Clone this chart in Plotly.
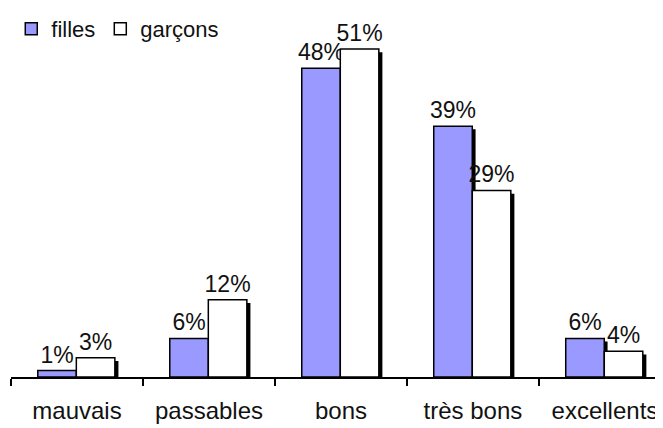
import plotly.graph_objects as go

categories = ["mauvais", "passables", "bons", "très bons", "excellents"]
filles = [1, 6, 48, 39, 6]
garcons = [3, 12, 51, 29, 4]
filles_labels = ["1%", "6%", "48%", "39%", "6%"]
garcons_labels = ["3%", "12%", "51%", "29%", "4%"]

FONT = "Liberation Sans, Arial, sans-serif"
BAR_W = 0.292

fig = go.Figure()

# drop shadows (black, shifted right and a bit down)
for vals, off in [(filles, -0.272), (garcons, 0.022)]:
    fig.add_trace(go.Bar(
        x=categories, y=vals, base=-0.5, offset=off, width=BAR_W,
        marker=dict(color="black", line=dict(width=0)),
        showlegend=False, hoverinfo="skip",
    ))

fig.add_trace(go.Bar(
    x=categories, y=filles, name="filles", offset=-0.297, width=BAR_W,
    marker=dict(color="#9999ff", line=dict(color="black", width=1.5)),
    text=filles_labels, textposition="outside", cliponaxis=False,
    constraintext="none",
    textfont=dict(family=FONT, size=23, color="#111"),
))
fig.add_trace(go.Bar(
    x=categories, y=garcons, name="garçons", offset=-0.005, width=BAR_W,
    marker=dict(color="white", line=dict(color="black", width=1.5)),
    text=garcons_labels, textposition="outside", cliponaxis=False,
    constraintext="none",
    textfont=dict(family=FONT, size=23, color="#111"),
))

# page body has an 8px margin, so the figure is 8px smaller than the window
fig.update_layout(
    width=655, height=420,
    barmode="overlay",
    paper_bgcolor="white", plot_bgcolor="white",
    margin=dict(l=3, r=0, t=12, b=51, autoexpand=False),
    font=dict(family=FONT, color="#111"),
    showlegend=True,
    legend=dict(orientation="h", x=0.005, y=1.0, xref="container", yref="container",
                xanchor="left", yanchor="top", traceorder="normal",
                font=dict(size=22, family=FONT), itemwidth=30,
                bgcolor="rgba(0,0,0,0)"),
    xaxis=dict(
        range=[-0.5, 4.44], showgrid=False, zeroline=False, automargin=False,
        showline=True, linecolor="black", linewidth=1.5,
        ticks="outside", tickson="boundaries", ticklen=7, tickwidth=1.5, tickcolor="black",
        tickfont=dict(size=24, family=FONT, color="#111"),
        ticklabelstandoff=11,
    ),
    yaxis=dict(range=[0, 55.5], visible=False, showgrid=False, zeroline=False,
               automargin=False),
)

fig.write_html("out.html")
